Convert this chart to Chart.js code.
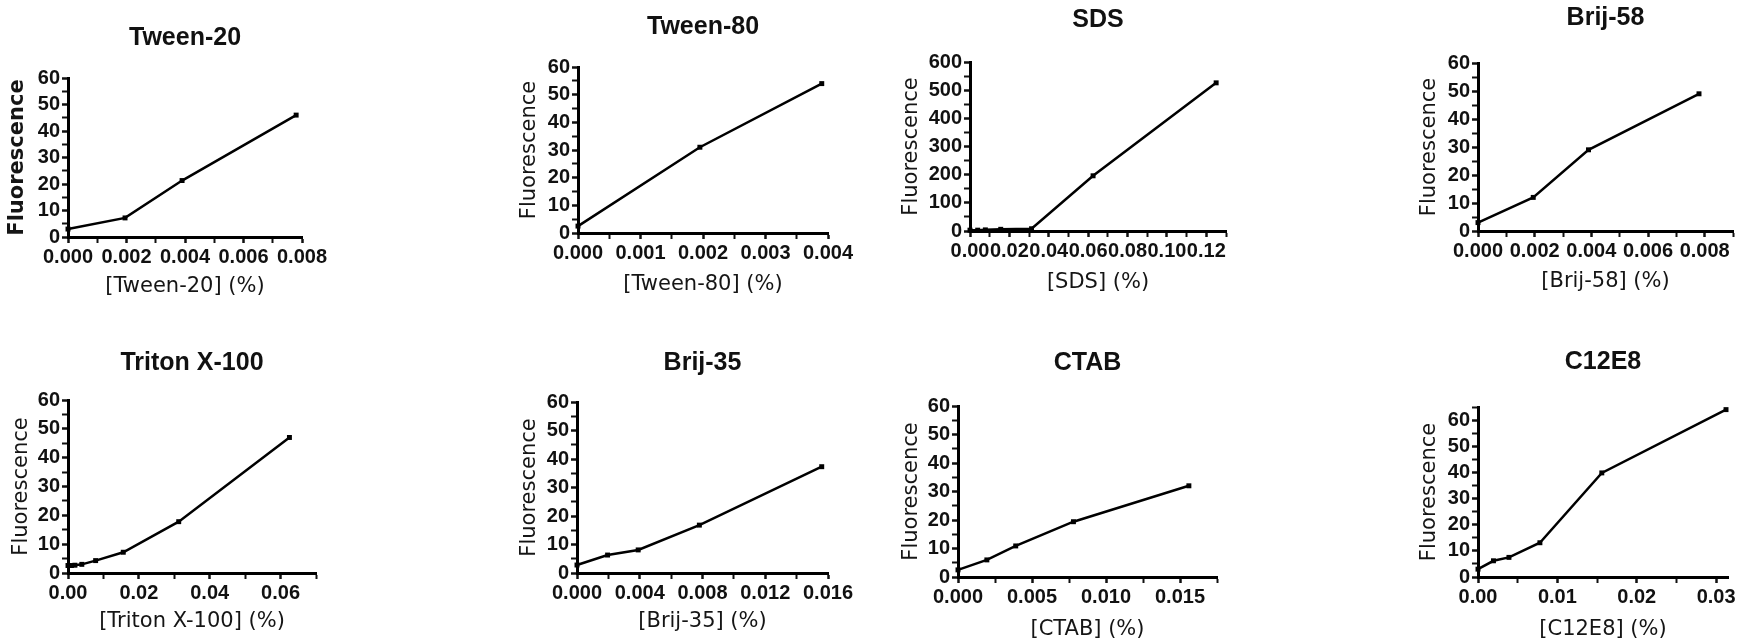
<!DOCTYPE html>
<html>
<head>
<meta charset="utf-8">
<script src="https://cdn.jsdelivr.net/npm/chart.js@4.4.0/dist/chart.umd.min.js"></script>
<style>
  html, body { margin: 0; padding: 0; background: #fff; overflow: hidden; }
  body { width: 1750px; height: 642px; position: relative; }
  canvas { position: absolute; }
</style>
</head>
<body>
<script>
// fluorescence vs detergent concentration (%)
const tween20Conc = [0, 0.00195, 0.0039, 0.0078];
const tween20Fluo = [3, 7.2, 21.3, 46];

const tween80Conc = [0, 0.00195, 0.0039];
const tween80Fluo = [2.5, 31, 54];

const sdsConc = [0, 0.0039, 0.0078, 0.0156, 0.03125, 0.0625, 0.125];
const sdsFluo = [3, 3, 4, 6, 8, 196, 526];

const brij58Conc = [0, 0.00195, 0.0039, 0.0078];
const brij58Fluo = [3, 12, 29, 49];

const tritonConc = [0, 0.00098, 0.00195, 0.0039, 0.0078, 0.0156, 0.03125, 0.0625];
const tritonFluo = [2.6, 2.6, 2.7, 3, 4.3, 7.2, 17.8, 47];

const brij35Conc = [0, 0.00195, 0.0039, 0.0078, 0.0156];
const brij35Fluo = [2.8, 6.3, 8.1, 16.8, 37.3];

const ctabConc = [0, 0.00195, 0.0039, 0.0078, 0.0156];
const ctabFluo = [2.5, 6, 10.9, 19.4, 32];

const c12e8Conc = [0, 0.00195, 0.0039, 0.0078, 0.0156, 0.03125];
const c12e8Fluo = [3, 6.2, 7.5, 13.1, 39.8, 64];

// tick labels
const tween20XTicks = ['0.000', '0.002', '0.004', '0.006', '0.008'];
const tween80XTicks = ['0.000', '0.001', '0.002', '0.003', '0.004'];
const sdsXTicks = ['0.00', '0.02', '0.04', '0.06', '0.08', '0.10', '0.12'];
const brij58XTicks = ['0.000', '0.002', '0.004', '0.006', '0.008'];
const tritonXTicks = ['0.00', '0.02', '0.04', '0.06'];
const brij35XTicks = ['0.000', '0.004', '0.008', '0.012', '0.016'];
const ctabXTicks = ['0.000', '0.005', '0.010', '0.015'];
const c12e8XTicks = ['0.00', '0.01', '0.02', '0.03'];
const fluoTicks = ['0', '10', '20', '30', '40', '50', '60'];
const sdsFluoTicks = ['0', '100', '200', '300', '400', '500', '600'];

const panels = [
  { title: 'Tween-20', xTitle: '[Tween-20] (%)', x: tween20Conc, y: tween20Fluo,
    xTicks: tween20XTicks, xMinor: 0.001, xMax: 0.008, yTicks: fluoTicks, yMinor: 5, yMax: 60, boldY: true },
  { title: 'Tween-80', xTitle: '[Tween-80] (%)', x: tween80Conc, y: tween80Fluo,
    xTicks: tween80XTicks, xMinor: 0.0005, xMax: 0.004, yTicks: fluoTicks, yMinor: 5, yMax: 60 },
  { title: 'SDS', xTitle: '[SDS] (%)', x: sdsConc, y: sdsFluo,
    xTicks: sdsXTicks, xMinor: 0.01, xMax: 0.13, yTicks: sdsFluoTicks, yMinor: 50, yMax: 600 },
  { title: 'Brij-58', xTitle: '[Brij-58] (%)', x: brij58Conc, y: brij58Fluo,
    xTicks: brij58XTicks, xMinor: 0.001, xMax: 0.009, yTicks: fluoTicks, yMinor: 5, yMax: 60 },
  { title: 'Triton X-100', xTitle: '[Triton X-100] (%)', x: tritonConc, y: tritonFluo,
    xTicks: tritonXTicks, xMinor: 0.01, xMax: 0.07, yTicks: fluoTicks, yMinor: 5, yMax: 60 },
  { title: 'Brij-35', xTitle: '[Brij-35] (%)', x: brij35Conc, y: brij35Fluo,
    xTicks: brij35XTicks, xMinor: 0.002, xMax: 0.016, yTicks: fluoTicks, yMinor: 5, yMax: 60 },
  { title: 'CTAB', xTitle: '[CTAB] (%)', x: ctabConc, y: ctabFluo,
    xTicks: ctabXTicks, xMinor: 0.0025, xMax: 0.0175, yTicks: fluoTicks, yMinor: 5, yMax: 60 },
  { title: 'C12E8', xTitle: '[C12E8] (%)', x: c12e8Conc, y: c12e8Fluo,
    xTicks: c12e8XTicks, xMinor: 0.005, xMax: 0.0315, yTicks: fluoTicks, yMinor: 5, yMax: 65 }
];

// where each plot area sits on the page
const boxes = [
  { left: 68, right: 302, top: 78, bottom: 237, titleY: 38, xTitleY: 287, yTitleX: 18 },
  { left: 578, right: 828, top: 67, bottom: 233, titleY: 27, xTitleY: 285, yTitleX: 530 },
  { left: 970, right: 1226, top: 62, bottom: 231, titleY: 20, xTitleY: 283, yTitleX: 912 },
  { left: 1478, right: 1733, top: 63, bottom: 231, titleY: 18, xTitleY: 282, yTitleX: 1430 },
  { left: 68, right: 316, top: 400, bottom: 573, titleY: 363, xTitleY: 622, yTitleX: 22 },
  { left: 577, right: 828, top: 402, bottom: 573, titleY: 363, xTitleY: 622, yTitleX: 530 },
  { left: 958, right: 1217, top: 406, bottom: 577, titleY: 363, xTitleY: 630, yTitleX: 912 },
  { left: 1478, right: 1728, top: 407, bottom: 577, titleY: 362, xTitleY: 630, yTitleX: 1430 }
];

const TITLE_FONT = 25, AXIS_FONT = 21, TICK_FONT = 20, RIGHT_PAD = 30;

function tickSet(labels, minor, max) {
  const major = labels.map(Number);
  const values = [];
  const n = Math.floor(max / minor + 1e-6);
  for (let i = 0; i <= n; i++) values.push(+(i * minor).toFixed(6));
  const isMajor = v => major.some(m => Math.abs(m - v) < minor * 0.01);
  const label = v => {
    const k = major.findIndex(m => Math.abs(m - v) < minor * 0.01);
    return k >= 0 ? labels[k] : '';
  };
  return { values, isMajor, label };
}

function axisStyle(ts) {
  return {
    border: { display: true, color: '#000', width: 3 },
    grid: {
      display: true, drawOnChartArea: false, drawTicks: true, tickLength: 6,
      color: '#000', tickColor: '#111',
      tickWidth: ctx => (ctx.tick && ts.isMajor(ctx.tick.value)) ? 2.5 : 2
    },
    ticks: {
      autoSkip: false, maxRotation: 0, minRotation: 0, padding: 2, color: '#111',
      font: { family: 'Liberation Sans', weight: 'bold', size: TICK_FONT },
      callback: v => ts.label(v)
    },
    afterBuildTicks: axis => { axis.ticks = ts.values.map(v => ({ value: v })); }
  };
}

panels.forEach((p, i) => {
  const b = boxes[i];
  const cl = Math.round(b.yTitleX - AXIS_FONT * 0.6 - 2);
  const ct = Math.round(b.titleY - TITLE_FONT * 0.6 - 2);
  const cb = Math.round(b.xTitleY + AXIS_FONT * 0.6 + 2);
  const cr = b.right + RIGHT_PAD;

  const cv = document.createElement('canvas');
  cv.width = cr - cl;
  cv.height = cb - ct;
  cv.style.left = cl + 'px';
  cv.style.top = ct + 'px';
  cv.style.width = (cr - cl) + 'px';
  cv.style.height = (cb - ct) + 'px';
  document.body.appendChild(cv);

  const yW = b.left - cl;
  const xH = cb - b.bottom;
  const titlePadTop = b.titleY - ct - TITLE_FONT * 0.6;
  const titlePadBottom = b.top - ct - TITLE_FONT * 1.2 - titlePadTop;

  const xt = tickSet(p.xTicks, p.xMinor, p.xMax);
  const yt = tickSet(p.yTicks, p.yMinor, p.yMax);

  const xScale = Object.assign(axisStyle(xt), {
    type: 'linear', min: 0, max: p.xMax,
    afterFit: s => { s.height = xH; },
    title: {
      display: true, text: p.xTitle, color: '#151515',
      font: { family: 'DejaVu Sans', size: AXIS_FONT },
      padding: { top: 0, bottom: cb - b.xTitleY - AXIS_FONT * 0.6 }
    }
  });
  const yScale = Object.assign(axisStyle(yt), {
    type: 'linear', min: 0, max: p.yMax,
    afterFit: s => { s.width = yW; },
    title: {
      display: true, text: 'Fluorescence', color: '#151515',
      font: { family: 'DejaVu Sans', size: AXIS_FONT, weight: p.boldY ? 'bold' : 'normal' },
      padding: { top: b.yTitleX - cl - AXIS_FONT * 0.6, bottom: 0 }
    }
  });

  new Chart(cv, {
    type: 'scatter',
    data: {
      datasets: [{
        data: p.x.map((c, k) => ({ x: c, y: p.y[k] })),
        showLine: true,
        tension: 0,
        borderColor: '#000',
        backgroundColor: '#000',
        borderWidth: 2.5,
        pointStyle: 'rect',
        pointRadius: 3.5,
        pointBorderWidth: 0,
        clip: false
      }]
    },
    options: {
      responsive: false,
      animation: false,
      devicePixelRatio: 1,
      layout: { padding: { left: 0, right: RIGHT_PAD, top: 0, bottom: 0 } },
      plugins: {
        legend: { display: false },
        tooltip: { enabled: false },
        title: {
          display: true, text: p.title, fullSize: false, color: '#111',
          font: { family: 'Liberation Sans', weight: 'bold', size: TITLE_FONT },
          padding: { top: titlePadTop, bottom: titlePadBottom }
        }
      },
      scales: { x: xScale, y: yScale }
    }
  });
});
</script>
</body>
</html>
